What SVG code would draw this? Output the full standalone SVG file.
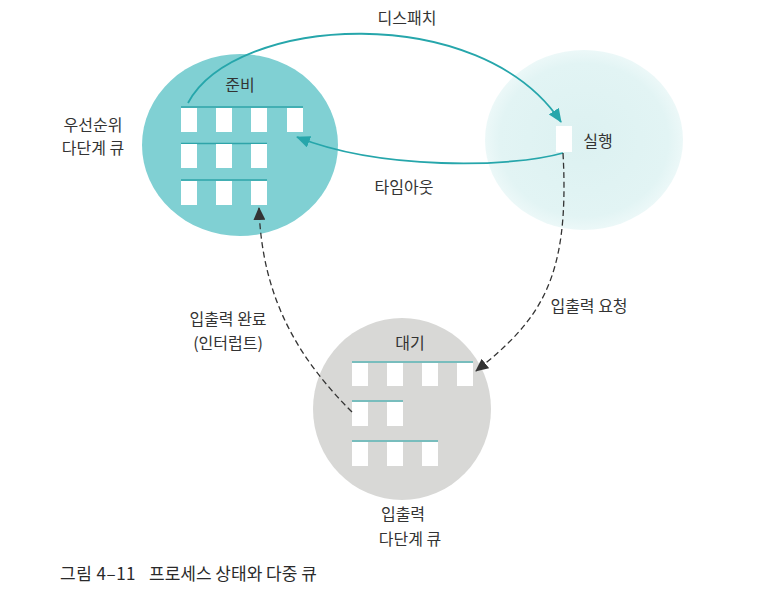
<svg xmlns="http://www.w3.org/2000/svg" width="773" height="604" viewBox="0 0 773 604">
<style>
text{font-family:"Noto Sans CJK KR","Noto Sans",sans-serif;font-size:16px;fill:#333;text-anchor:middle;dominant-baseline:central}
.slot{fill:#fff}
.qline{stroke:#2ea4a9;stroke-width:1.6;fill:none}
.wline{stroke:#58b4b4;stroke-width:1.6;fill:none}
.solid{stroke:#26a6ab;stroke-width:1.8;fill:none}
.dash{stroke:#333;stroke-width:1.3;fill:none;stroke-dasharray:6 3.5}
</style>
<defs>
<radialGradient id="runG" cx="0.5" cy="0.5" r="0.5">
<stop offset="0" stop-color="#dcf1f1"/>
<stop offset="0.85" stop-color="#e2f4f4"/>
<stop offset="1" stop-color="#ecf8f8"/>
</radialGradient>
<marker id="aT" markerUnits="userSpaceOnUse" markerWidth="14" markerHeight="12" refX="13" refY="6" orient="auto">
<path d="M0,0 L14,6 L0,12 z" fill="#26a6ab"/>
</marker>
<marker id="aD" markerUnits="userSpaceOnUse" markerWidth="13" markerHeight="12" refX="12" refY="6" orient="auto">
<path d="M0,0 L13,6 L0,12 z" fill="#333"/>
</marker>
</defs>
<rect width="773" height="604" fill="#fff"/>

<g id="ready">
<ellipse cx="240" cy="145" rx="98" ry="91" fill="#80d0d3"/>
<line class="qline" x1="181" y1="107" x2="303" y2="107"/>
<line class="qline" x1="181" y1="143.5" x2="267" y2="143.5"/>
<line class="qline" x1="181" y1="180" x2="267" y2="180"/>
<rect class="slot" x="181" y="108" width="16" height="24"/>
<rect class="slot" x="216" y="108" width="16" height="24"/>
<rect class="slot" x="251" y="108" width="16" height="24"/>
<rect class="slot" x="287" y="108" width="16" height="24"/>
<rect class="slot" x="181" y="144" width="16" height="24"/>
<rect class="slot" x="216" y="144" width="16" height="24"/>
<rect class="slot" x="251" y="144" width="16" height="24"/>
<rect class="slot" x="181" y="181" width="16" height="24"/>
<rect class="slot" x="216" y="181" width="16" height="24"/>
<rect class="slot" x="251" y="181" width="16" height="24"/>
<text x="240" y="84">준비</text>
</g>

<g id="running">
<ellipse cx="584" cy="140" rx="99" ry="90" fill="url(#runG)"/>
<rect class="slot" x="556" y="126" width="16" height="26"/>
<text x="598" y="140">실행</text>
</g>

<g id="waiting">
<ellipse cx="402" cy="409" rx="89" ry="91" fill="#d8d8d6"/>
<line class="wline" x1="352" y1="362" x2="473" y2="362"/>
<line class="wline" x1="352" y1="401" x2="403" y2="401"/>
<line class="wline" x1="352" y1="441" x2="438" y2="441"/>
<rect class="slot" x="352" y="363" width="16" height="23"/>
<rect class="slot" x="387" y="363" width="16" height="23"/>
<rect class="slot" x="422" y="363" width="16" height="23"/>
<rect class="slot" x="457" y="363" width="16" height="23"/>
<rect class="slot" x="352" y="402" width="16" height="24"/>
<rect class="slot" x="387" y="402" width="16" height="24"/>
<rect class="slot" x="352" y="442" width="16" height="24"/>
<rect class="slot" x="387" y="442" width="16" height="24"/>
<rect class="slot" x="422" y="442" width="16" height="24"/>
<text x="410" y="342">대기</text>
</g>

<g id="connectors">
<path class="solid" d="M188,103 C235,15 480,0 561,122" marker-end="url(#aT)"/>
<path class="solid" d="M563,153 C510,168 380,170 297,137" marker-end="url(#aT)"/>
<path class="dash" d="M563,153 C570,280 540,320 476,371" marker-end="url(#aD)"/>
<path class="dash" d="M352,412 C300,360 262,300 259,208" marker-end="url(#aD)"/>
</g>

<g id="labels">
<text x="407" y="17">디스패치</text>
<text x="404" y="186">타임아웃</text>
<text x="589" y="305">입출력 요청</text>
<text x="228" y="318">입출력 완료</text>
<text x="228" y="342">(인터럽트)</text>
<text x="93" y="124">우선순위</text>
<text x="93" y="147">다단계 큐</text>
<text x="403" y="513">입출력</text>
<text x="410" y="538">다단계 큐</text>
<text x="60" y="572" style="text-anchor:start;fill:#2a2a2a;font-size:17px"><tspan style="letter-spacing:0.5px">그림 4–11</tspan><tspan x="149">프로세스 상태와 다중 큐</tspan></text>
</g>
</svg>
